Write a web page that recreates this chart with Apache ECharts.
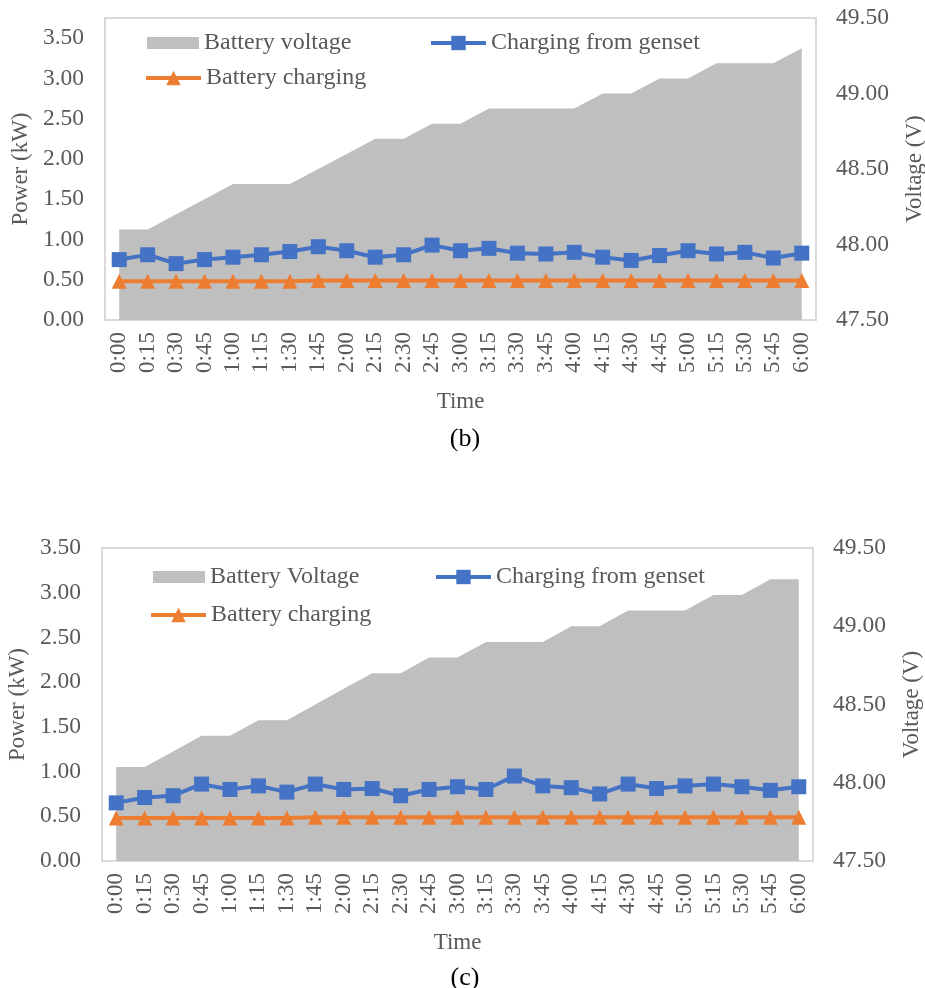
<!DOCTYPE html>
<html>
<head>
<meta charset="utf-8">
<script src="https://cdn.jsdelivr.net/npm/echarts@6/dist/echarts.min.js"></script>
<style>
  html, body { margin: 0; padding: 0; background: #fff; }
  #chart { width: 925px; height: 988px; }
</style>
</head>
<body>
<div id="chart"></div>
<script>
// Time of day, every 15 minutes
const times = ['0:00','0:15','0:30','0:45','1:00','1:15','1:30','1:45','2:00','2:15','2:30','2:45',
  '3:00','3:15','3:30','3:45','4:00','4:15','4:30','4:45','5:00','5:15','5:30','5:45','6:00'];

// Panel (b)
const voltageB = [48.1,48.1,48.2,48.3,48.4,48.4,48.4,48.5,48.6,48.7,48.7,48.8,48.8,
  48.9,48.9,48.9,48.9,49.0,49.0,49.1,49.1,49.2,49.2,49.2,49.3];
const gensetB = [0.75,0.81,0.70,0.75,0.78,0.81,0.85,0.91,0.86,0.78,0.81,0.93,0.86,
  0.89,0.83,0.82,0.84,0.78,0.74,0.80,0.86,0.82,0.84,0.77,0.83];
const chargingB = [0.48,0.48,0.48,0.48,0.48,0.48,0.48,0.49,0.49,0.49,0.49,0.49,0.49,
  0.49,0.49,0.49,0.49,0.49,0.49,0.49,0.49,0.49,0.49,0.49,0.49];

// Panel (c)
const voltageC = [48.1,48.1,48.2,48.3,48.3,48.4,48.4,48.5,48.6,48.7,48.7,48.8,48.8,
  48.9,48.9,48.9,49.0,49.0,49.1,49.1,49.1,49.2,49.2,49.3,49.3];
const gensetC = [0.65,0.71,0.73,0.86,0.80,0.84,0.77,0.86,0.80,0.81,0.73,0.80,0.83,
  0.80,0.95,0.84,0.82,0.75,0.86,0.81,0.84,0.86,0.83,0.79,0.83];
const chargingC = [0.48,0.48,0.48,0.48,0.48,0.48,0.48,0.49,0.49,0.49,0.49,0.49,0.49,
  0.49,0.49,0.49,0.49,0.49,0.49,0.49,0.49,0.49,0.49,0.49,0.49];

const FONT = '"Liberation Serif", "Times New Roman", serif';
const TXT = '#595959';
const GRAY = '#bfbfbf', BLUE = '#4472c4', ORANGE = '#ed7d31';

const chart = echarts.init(document.getElementById('chart'), null, { renderer: 'canvas' });

function xAxisFor(gridIndex) {
  return {
    type: 'category', gridIndex, data: times, boundaryGap: true,
    axisLine: { show: false }, axisTick: { show: false },
    axisLabel: { rotate: 90, fontFamily: FONT, fontSize: 23, color: TXT, margin: 12, interval: 0 },
    name: 'Time', nameLocation: 'middle', nameGap: 70,
    nameTextStyle: { fontFamily: FONT, fontSize: 23, color: TXT }
  };
}
function powerAxis(gridIndex, max) {
  return {
    type: 'value', gridIndex, position: 'left', min: 0, max, interval: 0.5,
    splitLine: { show: false }, axisLine: { show: false }, axisTick: { show: false },
    axisLabel: { showMaxLabel: max === 3.5, fontFamily: FONT, fontSize: 23.5, color: TXT, margin: 21,
      formatter: v => v.toFixed(2) },
    name: 'Power (kW)', nameLocation: 'middle', nameGap: 72, nameRotate: 90,
    nameTextStyle: { fontFamily: FONT, fontSize: 23, color: TXT }
  };
}
function voltAxis(gridIndex) {
  return {
    type: 'value', gridIndex, position: 'right', min: 47.5, max: 49.5, interval: 0.5,
    splitLine: { show: false }, axisLine: { show: false }, axisTick: { show: false },
    axisLabel: { fontFamily: FONT, fontSize: 23.5, color: TXT, margin: 20,
      formatter: v => v.toFixed(2) },
    name: 'Voltage (V)', nameLocation: 'middle', nameGap: 87, nameRotate: 90,
    nameTextStyle: { fontFamily: FONT, fontSize: 23, color: TXT }
  };
}
function areaSeries(name, xi, yi, data) {
  return {
    name, type: 'line', xAxisIndex: xi, yAxisIndex: yi, data,
    symbol: 'none', lineStyle: { width: 0, color: GRAY },
    itemStyle: { color: GRAY },
    areaStyle: { color: GRAY, opacity: 1, origin: 'start' }, z: 1
  };
}
function lineSeries(name, xi, yi, data, color, symbol, size) {
  return {
    name, type: 'line', xAxisIndex: xi, yAxisIndex: yi, data,
    symbol, symbolSize: size, showSymbol: true,
    lineStyle: { width: 4, color }, itemStyle: { color }, z: 3
  };
}
function legendItem(name, left, top, kind) {
  const base = {
    data: [name], left, top, orient: 'horizontal', selectedMode: false,
    textStyle: { fontFamily: FONT, fontSize: 24, color: TXT },
    padding: 0
  };
  if (kind === 'area') {
    return Object.assign(base, { itemWidth: 52, itemHeight: 12, icon: 'rect' });
  }
  return Object.assign(base, { itemWidth: 55, itemHeight: 18, lineStyle: { width: 4 } });
}

chart.setOption({
  animation: false,
  backgroundColor: '#fff',
  title: [
    { text: '(b)', left: 460, top: 421, textAlign: 'center',
      textStyle: { fontFamily: FONT, fontSize: 26, fontWeight: 'normal', color: '#000' } },
    { text: '(c)', left: 460, top: 960, textAlign: 'center',
      textStyle: { fontFamily: FONT, fontSize: 26, fontWeight: 'normal', color: '#000' } }
  ],
  grid: [
    { left: 105, right: 109, top: 18, bottom: 668, show: true, borderColor: '#d9d9d9', borderWidth: 2,
      containLabel: false, outerBoundsMode: 'none' },
    { left: 102, right: 112, top: 548, bottom: 127, show: true, borderColor: '#d9d9d9', borderWidth: 2,
      containLabel: false, outerBoundsMode: 'none' }
  ],
  xAxis: [xAxisFor(0), xAxisFor(1)],
  yAxis: [powerAxis(0, 3.75), voltAxis(0), powerAxis(1, 3.5), voltAxis(1)],
  legend: [
    legendItem('Battery voltage', 147, 31, 'area'),
    legendItem('Charging from genset', 429, 31, 'line'),
    legendItem('Battery charging', 144, 66, 'line'),
    legendItem('Battery Voltage', 153, 565, 'area'),
    legendItem('Charging from genset ', 434, 565, 'line'),
    legendItem('Battery charging ', 149, 603, 'line')
  ],
  series: [
    areaSeries('Battery voltage', 0, 1, voltageB),
    lineSeries('Battery charging', 0, 0, chargingB, ORANGE, 'triangle', 15),
    lineSeries('Charging from genset', 0, 0, gensetB, BLUE, 'rect', 15),
    areaSeries('Battery Voltage', 1, 3, voltageC),
    lineSeries('Battery charging ', 1, 2, chargingC, ORANGE, 'triangle', 15),
    lineSeries('Charging from genset ', 1, 2, gensetC, BLUE, 'rect', 15)
  ]
});
</script>
</body>
</html>
